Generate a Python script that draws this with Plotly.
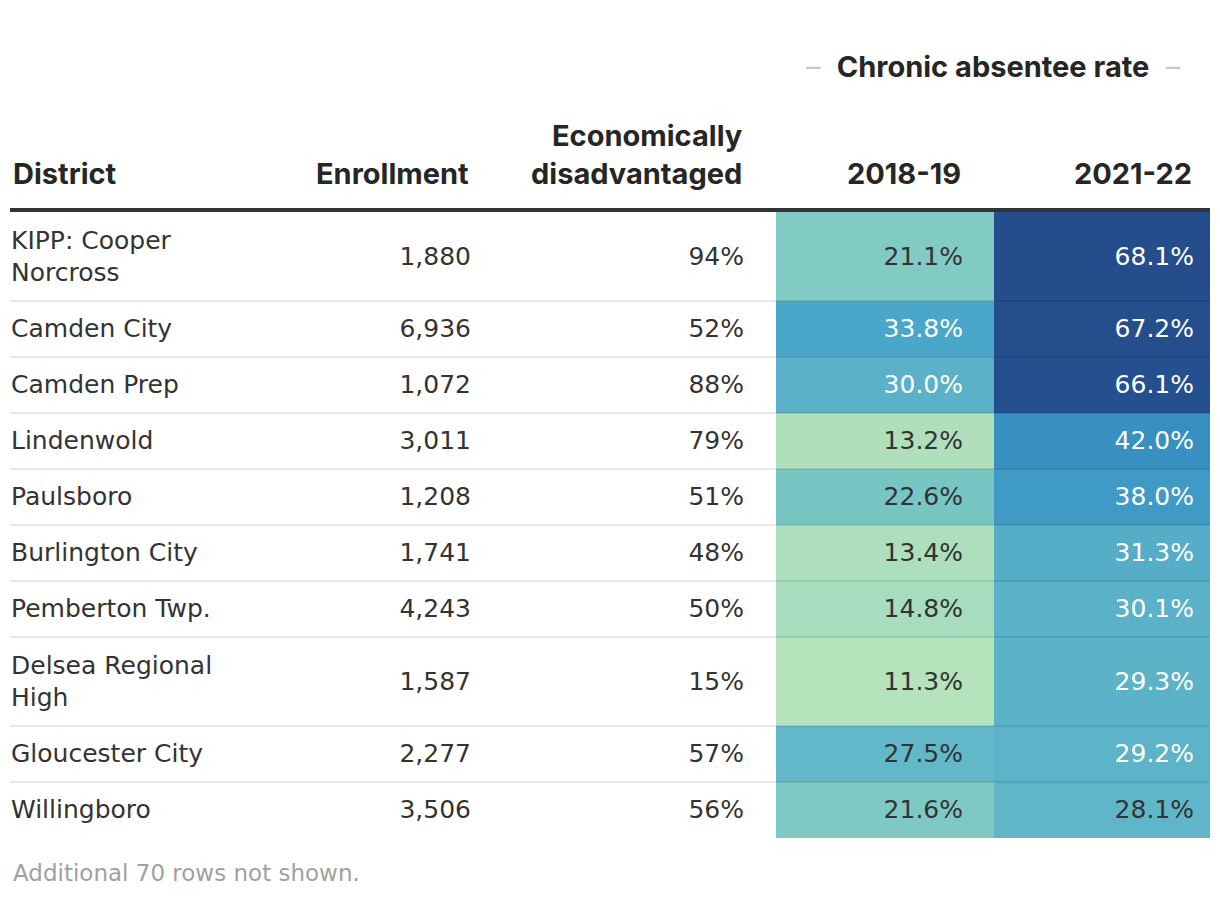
import textwrap
import plotly.graph_objects as go

# ---------------- data ----------------
districts = ["KIPP: Cooper Norcross", "Camden City", "Camden Prep", "Lindenwold",
             "Paulsboro", "Burlington City", "Pemberton Twp.", "Delsea Regional High",
             "Gloucester City", "Willingboro"]
enrollment = [1880, 6936, 1072, 3011, 1208, 1741, 4243, 1587, 2277, 3506]
econ_disadv = [94, 52, 88, 79, 51, 48, 50, 15, 57, 56]
absent_1819 = [21.1, 33.8, 30.0, 13.2, 22.6, 13.4, 14.8, 11.3, 27.5, 21.6]
absent_2122 = [68.1, 67.2, 66.1, 42.0, 38.0, 31.3, 30.1, 29.3, 29.2, 28.1]
column_headers = ["District", "Enrollment", "Economically<br>disadvantaged", "2018-19", "2021-22"]
group_header = "Chronic absentee rate"
footer = "Additional 70 rows not shown."

# ---------------- layout constants ----------------
W, H = 1220, 898
OFF = 8  # page body margin
BODY_FONT = "DejaVu Sans"
HEAD_FONT = "Inter"
BODY_SIZE = 25
HEAD_SIZE = 29
TXT = "#333333"
table_left, table_right = 10, 1210
text_left = 11
text_right = [471, 744, 963, 1194]
heat_edges = [776, 994, 1210]
rule_y = 210
body_top = 212
base_row, extra_line = 56, 33

colorscale = [
    [0.000, "#b8e5bc"], [0.050, "#b0e0bb"], [0.083, "#a6dcbe"], [0.183, "#82cbc4"],
    [0.217, "#74c5c3"], [0.292, "#62b8c8"], [0.333, "#5ab1c8"], [0.400, "#4aa6c9"],
    [0.467, "#3f9bc5"], [0.533, "#3790c0"], [0.750, "#2b68a5"], [0.933, "#24508f"],
    [1.000, "#264a8a"],
]
ZMIN, ZMAX = 10, 70

# ---------------- derived ----------------
labels = [textwrap.wrap(d, 15) for d in districts]
row_edges = [body_top]
for lines in labels:
    row_edges.append(row_edges[-1] + base_row + extra_line * (len(lines) - 1))
row_mid = [(a + b) / 2 + 2 for a, b in zip(row_edges[:-1], row_edges[1:])]

fig = go.Figure()

fig.add_trace(go.Heatmap(
    x=heat_edges, y=row_edges,
    z=[[a, b] for a, b in zip(absent_1819, absent_2122)],
    colorscale=colorscale, zmin=ZMIN, zmax=ZMAX, showscale=False,
    hoverinfo="skip", xgap=0, ygap=0,
))

def tc(v):
    return "#ffffff" if v > 29 else TXT

fig.add_trace(go.Scatter(
    x=[text_left] * len(districts), y=row_mid, mode="text",
    text=["<br>".join(l) for l in labels], textposition="middle right",
    textfont=dict(family=BODY_FONT, size=BODY_SIZE, color=TXT), hoverinfo="skip",
))
cols = [
    ([f"{v:,}" for v in enrollment], [TXT] * len(enrollment)),
    ([f"{v}%" for v in econ_disadv], [TXT] * len(econ_disadv)),
    ([f"{v:.1f}%" for v in absent_1819], [tc(v) for v in absent_1819]),
    ([f"{v:.1f}%" for v in absent_2122], [tc(v) for v in absent_2122]),
]
for xr, (txt, colr) in zip(text_right, cols):
    fig.add_trace(go.Scatter(
        x=[xr] * len(txt), y=row_mid, mode="text", text=txt,
        textposition="middle left",
        textfont=dict(family=BODY_FONT, size=BODY_SIZE, color=colr), hoverinfo="skip",
    ))

shapes = []
for y in row_edges[1:-1]:
    shapes.append(dict(type="line", xref="x", yref="y", x0=table_left, x1=table_right,
                       y0=y, y1=y, line=dict(color="rgba(0,0,0,0.09)", width=2), layer="above"))
shapes.append(dict(type="line", xref="x", yref="y", x0=table_left, x1=table_right,
                   y0=rule_y, y1=rule_y, line=dict(color="#333333", width=4), layer="above"))

annotations = []
head_x = [text_left] + text_right
for i, (hx, ht) in enumerate(zip(head_x, column_headers)):
    annotations.append(dict(x=hx, y=193, xref="x", yref="y", text=f"<b>{ht}</b>",
                            showarrow=False, xanchor="left" if i == 0 else "right",
                            yanchor="bottom", align="left" if i == 0 else "right",
                            font=dict(family=HEAD_FONT, size=HEAD_SIZE, color="#262626")))
dash = "<span style='color:#c8c8c8;font-weight:normal'>–</span>"
annotations.append(dict(x=(heat_edges[0] + heat_edges[-1]) / 2, y=66, xref="x", yref="y",
                        text=f"{dash}\u00a0\u00a0<b>{group_header}</b>\u00a0\u00a0{dash}",
                        showarrow=False, xanchor="center", yanchor="middle",
                        font=dict(family=HEAD_FONT, size=HEAD_SIZE, color="#262626")))
annotations.append(dict(x=text_left, y=873, xref="x", yref="y", text=footer,
                        showarrow=False, xanchor="left", yanchor="middle",
                        font=dict(family=BODY_FONT, size=23, color="#a0a0a0")))

fig.update_layout(
    width=W, height=H, autosize=False,
    margin=dict(l=0, r=0, t=0, b=0),
    paper_bgcolor="white", plot_bgcolor="white",
    showlegend=False,
    xaxis=dict(range=[OFF, W + OFF], visible=False, fixedrange=True),
    yaxis=dict(range=[H + OFF, OFF], visible=False, fixedrange=True),
    shapes=shapes, annotations=annotations,
)

fig.write_html("out.html")
